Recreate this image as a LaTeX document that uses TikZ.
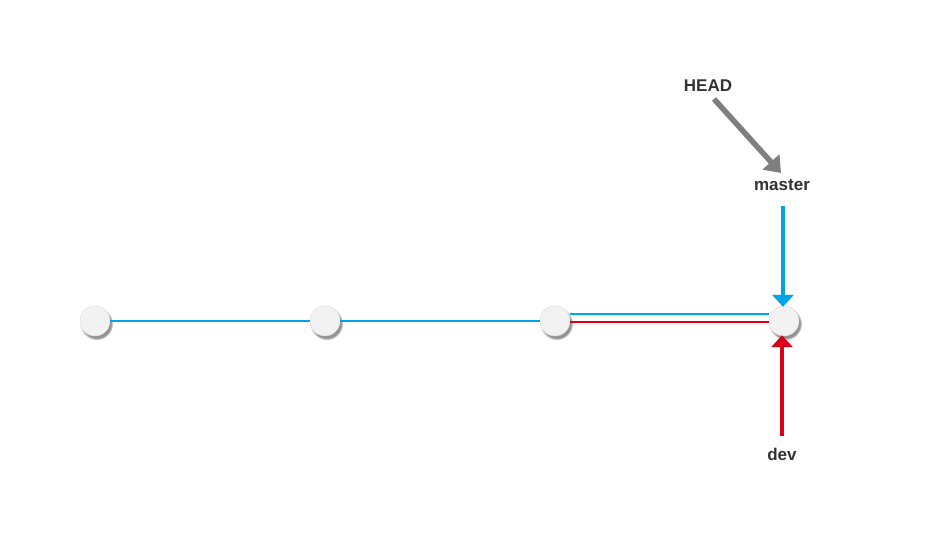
\documentclass[tikz,border=0pt]{standalone}
\usepackage{fontspec}
\setmainfont{Liberation Sans}
\usetikzlibrary{shadows,arrows.meta}
\definecolor{cblue}{RGB}{0,163,233}
\definecolor{cred}{RGB}{217,0,27}
\definecolor{cgray}{RGB}{127,127,127}
\definecolor{ctext}{RGB}{51,51,51}
\definecolor{cfill}{RGB}{242,242,242}
\begin{document}
\begin{tikzpicture}[x=1pt,y=-1pt,
  commit/.style={circle,minimum size=30pt,inner sep=0pt,fill=cfill,draw=white!85!black,line width=0.4pt,
    circular drop shadow={shadow xshift=1.5pt,shadow yshift=-2.5pt,shadow scale=1.1,opacity=0.6,fill=black!70}},
  lbl/.style={font=\fontsize{17}{19}\selectfont\bfseries,text=ctext,inner sep=0pt},
  ptr/.style={line width=4.5pt,-{Triangle[width=21pt,length=12pt]}}
]
\useasboundingbox (0,0) rectangle (937,548);
\fill[white] (0,0) rectangle (937,548);
\node[commit] (c1) at (95,321) {};
\node[commit] (c2) at (325,321) {};
\node[commit] (c3) at (555,321) {};
\node[commit] (c4) at (784,321) {};
\node[lbl] (head) at (708,86) {HEAD};
\node[lbl] (master) at (782,185) {master};
\node[lbl] (dev) at (782,454) {dev};
\draw[cblue,line width=2pt] (c1.east) -- (c2.west);
\draw[cblue,line width=2pt] (c2.east) -- (c3.west);
\draw[cblue,line width=2pt] ([yshift=7pt]c3.east) -- ([yshift=7pt]c4.west);
\draw[cred,line width=2pt] ([yshift=-0.6pt]c3.east) -- ([yshift=-0.6pt]c4.west);
\coordinate (h1) at (714,99);
\coordinate (h2) at (781,173);
\draw[cgray,line width=5.5pt,-{Triangle[width=22pt,length=15pt]}] (h1) -- (h2);
\coordinate (mtop) at (783,206);
\coordinate (dbot) at (782,436);
\draw[cblue,ptr] (mtop) -- ([yshift=-1pt]c4.north -| mtop);
\draw[cred,ptr] (dbot) -- ([yshift=1pt]c4.south -| dbot);
\end{tikzpicture}
\end{document}
